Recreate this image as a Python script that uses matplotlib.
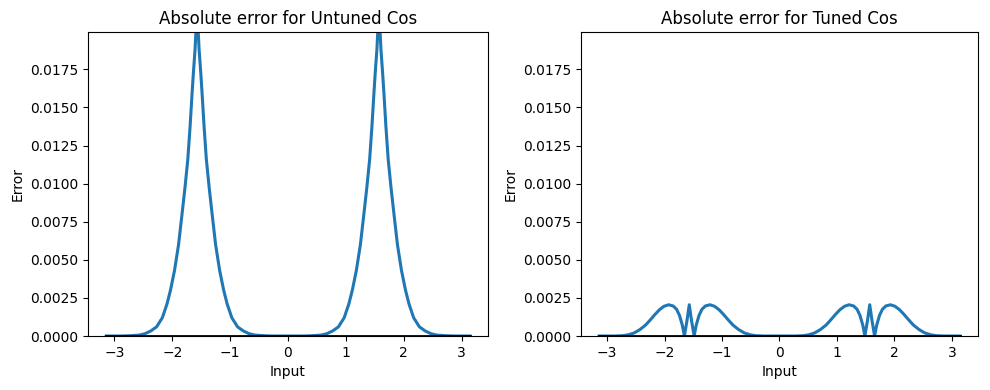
import matplotlib
matplotlib.use("Agg")
import matplotlib.pyplot as plt
import numpy as np

# ---- data ----
untuned_x = [-3.1416, -2.871, -2.721, -2.571, -2.471, -2.371, -2.271, -2.171, -2.091, -2.031,
             -1.961, -1.891, -1.831, -1.781, -1.731, -1.691, -1.661, -1.636, -1.606, -1.571,
             -1.536, -1.506, -1.481, -1.451, -1.411, -1.361, -1.311, -1.251, -1.181, -1.111,
             -1.051, -0.971, -0.871, -0.771, -0.671, -0.571, -0.421, -0.271, 0.0,
             0.271, 0.421, 0.571, 0.671, 0.771, 0.871, 0.971, 1.051, 1.111, 1.181,
             1.251, 1.311, 1.361, 1.411, 1.451, 1.481, 1.506, 1.536, 1.571, 1.606,
             1.636, 1.661, 1.691, 1.731, 1.781, 1.831, 1.891, 1.961, 2.031, 2.091,
             2.171, 2.271, 2.371, 2.471, 2.571, 2.721, 2.871, 3.1416]
untuned_err = [0.0, 0.0, 0.00002, 0.00006, 0.00015, 0.00033, 0.0006, 0.0012, 0.0021, 0.0030,
               0.0043, 0.0060, 0.0080, 0.0097, 0.0116, 0.0138, 0.0157, 0.0172, 0.0188, 0.0215,
               0.0188, 0.0172, 0.0157, 0.0138, 0.0116, 0.0097, 0.0080, 0.0060, 0.0043, 0.0030,
               0.0021, 0.0012, 0.0006, 0.00033, 0.00015, 0.00006, 0.00002, 0.0, 0.0,
               0.0, 0.00002, 0.00006, 0.00015, 0.00033, 0.0006, 0.0012, 0.0021, 0.0030, 0.0043,
               0.0060, 0.0080, 0.0097, 0.0116, 0.0138, 0.0157, 0.0172, 0.0188, 0.0215, 0.0188,
               0.0172, 0.0157, 0.0138, 0.0116, 0.0097, 0.0080, 0.0060, 0.0043, 0.0030, 0.0021,
               0.0012, 0.0006, 0.00033, 0.00015, 0.00006, 0.00002, 0.0, 0.0]

tuned_x = [-3.1416, -2.871, -2.731, -2.631, -2.531, -2.431, -2.331, -2.251, -2.171, -2.091,
           -2.011, -1.931, -1.851, -1.791, -1.741, -1.691, -1.656, -1.611, -1.571, -1.531,
           -1.486, -1.451, -1.401, -1.351, -1.291, -1.211, -1.131, -1.051, -0.971, -0.891,
           -0.811, -0.711, -0.611, -0.511, -0.411, -0.271, 0.0,
           0.271, 0.411, 0.511, 0.611, 0.711, 0.811, 0.891, 0.971, 1.051, 1.131,
           1.211, 1.291, 1.351, 1.401, 1.451, 1.486, 1.531, 1.571, 1.611, 1.656,
           1.691, 1.741, 1.791, 1.851, 1.931, 2.011, 2.091, 2.171, 2.251, 2.331,
           2.431, 2.531, 2.631, 2.731, 2.871, 3.1416]
tuned_err = [0.0, 0.0, 0.00002, 0.00008, 0.0002, 0.00042, 0.00072, 0.00105, 0.0014, 0.00172,
             0.00195, 0.00205, 0.00197, 0.00175, 0.00135, 0.0007, 0.0, 0.0010, 0.00205, 0.0010,
             0.0, 0.0007, 0.00135, 0.00175, 0.00197, 0.00205, 0.00195, 0.00172, 0.0014, 0.00105,
             0.00072, 0.00042, 0.0002, 0.00008, 0.00002, 0.0, 0.0,
             0.0, 0.00002, 0.00008, 0.0002, 0.00042, 0.00072, 0.00105, 0.0014, 0.00172, 0.00195,
             0.00205, 0.00197, 0.00175, 0.00135, 0.0007, 0.0, 0.0010, 0.00205, 0.0010, 0.0,
             0.0007, 0.00135, 0.00175, 0.00197, 0.00205, 0.00195, 0.00172, 0.0014, 0.00105, 0.00072,
             0.00042, 0.0002, 0.00008, 0.00002, 0.0, 0.0]

zero_x = [-3.1416, 3.1416]
zero_y = [0.0, 0.0]

titles = ["Absolute error for Untuned Cos", "Absolute error for Tuned Cos"]
y_top = 0.01995

fig = plt.figure(figsize=(9.9, 3.9), dpi=100)
ax1 = fig.add_axes([88 / 990, 54 / 390, 400 / 990, 304 / 390])
ax2 = fig.add_axes([581 / 990, 54 / 390, 397 / 990, 304 / 390])

for ax, xs, ys, title in [(ax1, untuned_x, untuned_err, titles[0]),
                          (ax2, tuned_x, tuned_err, titles[1])]:
    ax.plot(xs, ys, color="#1f77b4", linewidth=2.2)
    ax.plot(zero_x, zero_y, color="black", linewidth=2.0)
    ax.set_ylim(0, y_top)
    ax.set_title(title, fontsize=12)
    ax.set_xlabel("Input")
    ax.set_ylabel("Error")
    ax.set_xticks([-3, -2, -1, 0, 1, 2, 3])

fig.savefig("out.png", dpi=100)
